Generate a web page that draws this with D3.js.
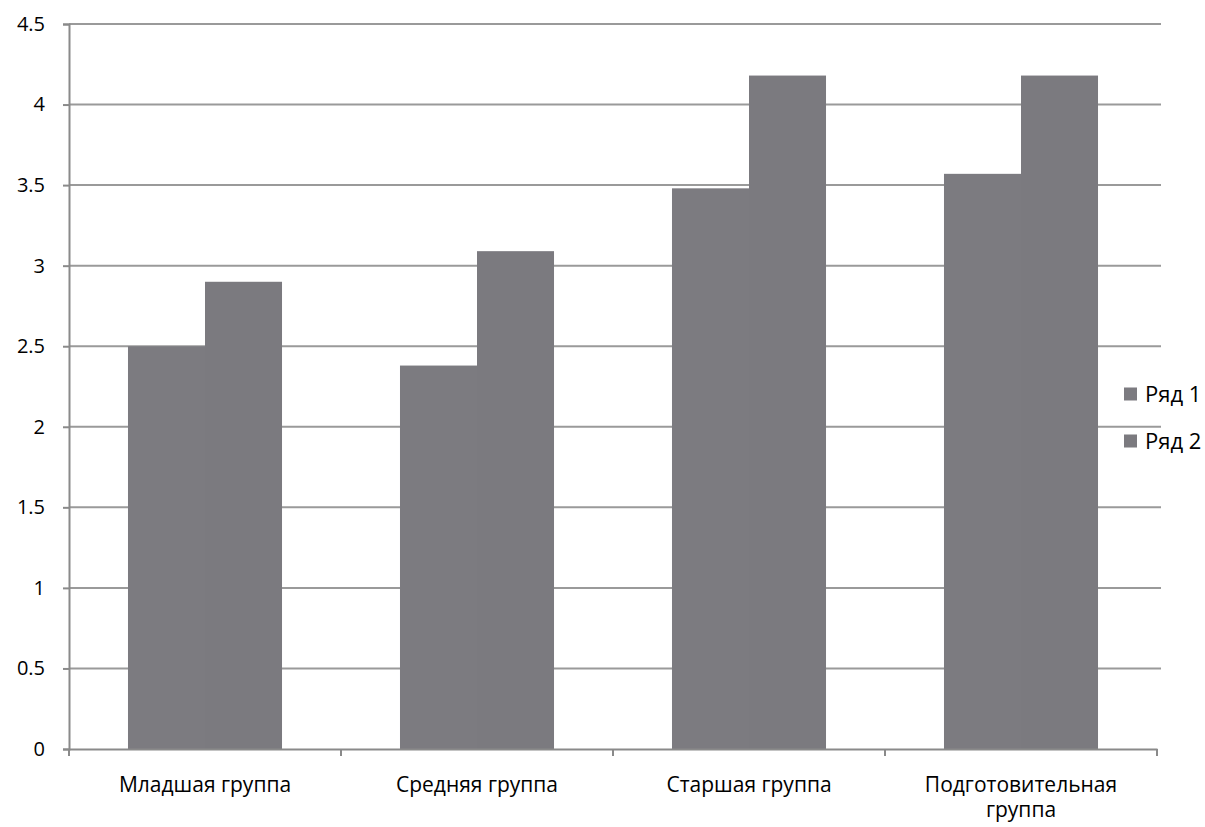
<!DOCTYPE html>
<html><head><meta charset="utf-8">
<script src="https://cdn.jsdelivr.net/npm/d3@7"></script>
<style>body{margin:0;background:#fff}svg{display:block}text{font-family:"Open Sans","Noto Sans",sans-serif;fill:#000}</style>
</head><body><svg id="c" width="1205" height="827"></svg>
<script>
const categories = ["Младшая группа","Средняя группа","Старшая группа","Подготовительная группа"];
const seriesNames = ["Ряд 1","Ряд 2"];
const series1 = [2.5, 2.38, 3.48, 3.57];
const series2 = [2.9, 3.09, 4.18, 4.18];
const yTicks = [0,0.5,1,1.5,2,2.5,3,3.5,4,4.5];
const colors = ["#7c7b80","#7b7a7f"];

const svg = d3.select("#c");
const L=69,R=1157,T=24,B=749;
const x0 = d3.scaleBand().domain(categories).range([L,R]).padding(0);
const x1 = d3.scaleBand().domain(seriesNames).range([0,x0.bandwidth()]).paddingInner(0).paddingOuter(0.766);
const y = d3.scaleLinear().domain([0,4.5]).range([B,T]);

// gridlines
svg.append("g").selectAll("line").data(yTicks.slice(1)).join("line")
  .attr("x1",L).attr("x2",R+4).attr("y1",d=>y(d)).attr("y2",d=>y(d))
  .attr("stroke","#9a9a9a").attr("stroke-width",2);

// bars
const data = categories.map((c,i)=>({c, vals:[series1[i],series2[i]]}));
const g = svg.append("g").selectAll("g").data(data).join("g").attr("transform",d=>`translate(${x0(d.c)},0)`);
g.selectAll("rect").data(d=>d.vals.map((v,j)=>({s:seriesNames[j],v,j}))).join("rect")
  .attr("x",d=>x1(d.s)).attr("width",x1.bandwidth())
  .attr("y",d=>y(d.v)).attr("height",d=>B-y(d.v)).attr("fill",d=>colors[d.j]);

// y axis
const ya = svg.append("g").attr("transform",`translate(${L},0)`)
  .call(d3.axisLeft(y).tickValues(yTicks).tickFormat(d=>d).tickSize(6).tickPadding(18));
ya.select(".domain").attr("stroke","#8a8a8a").attr("stroke-width",2);
ya.selectAll(".tick line").attr("stroke","#8a8a8a").attr("stroke-width",2);
ya.selectAll("text").style("font-size","20px").attr("fill","#000");

// x axis
const xa = svg.append("g").attr("transform",`translate(0,${B})`)
  .call(d3.axisBottom(x0).tickSize(0).tickPadding(28));
xa.select(".domain").attr("stroke","#8a8a8a").attr("stroke-width",2);
xa.selectAll(".tick text").style("font-size","21px").attr("fill","#000")
  .each(function(d){
    const t=d3.select(this);
    if(d==="Подготовительная группа"){
      t.text(null);
      t.append("tspan").attr("x",0).attr("dy","0.71em").text("Подготовительная");
      t.append("tspan").attr("x",0).attr("dy","1.2em").text("группа");
    }
  });
// category boundary ticks
const bounds = categories.map(c=>x0(c)).concat([x0(categories[categories.length-1])+x0.bandwidth()]);
svg.append("g").selectAll("line").data(bounds).join("line")
  .attr("x1",d=>d).attr("x2",d=>d).attr("y1",B).attr("y2",B+7)
  .attr("stroke","#8a8a8a").attr("stroke-width",2);

// legend
const leg = svg.append("g").attr("transform","translate(1124,394)");
const li = leg.selectAll("g").data(seriesNames).join("g").attr("transform",(d,i)=>`translate(0,${i*47})`);
li.append("rect").attr("x",0).attr("y",-6.5).attr("width",13).attr("height",13).attr("fill",(d,i)=>colors[i]);
li.append("text").attr("x",21).attr("y",0).attr("dy","0.36em").style("font-size","22px").text(d=>d);
</script></body></html>
